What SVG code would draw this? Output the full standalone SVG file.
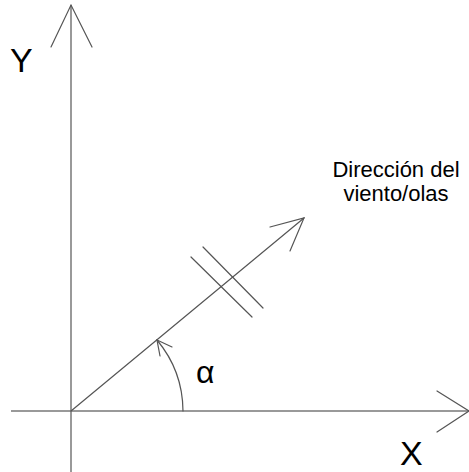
<svg xmlns="http://www.w3.org/2000/svg" width="469" height="472" viewBox="0 0 469 472">
<style>
.ln{fill:none;stroke:#555;stroke-width:1.2;stroke-linecap:round}
.ax{fill:none;stroke:#777;stroke-width:1.5}
.lbl{font-family:"Liberation Sans",Arial,sans-serif;fill:#000}
</style>
<rect width="469" height="472" fill="#fff"/>
<g id="connectors">
<line class="ax" x1="71" y1="5" x2="71" y2="472"/>
<polyline class="ln" points="51,47 71,5 92,47"/>
<line class="ax" x1="11" y1="411" x2="469" y2="411"/>
<polyline class="ln" points="437,391 469,411 437,432"/>
<line class="ln" x1="71" y1="411" x2="304" y2="218"/>
<polyline class="ln" points="270,227 304,218 290,251"/>
<line class="ln" x1="191" y1="257" x2="252" y2="317"/>
<line class="ln" x1="203" y1="247" x2="263" y2="308"/>
<path class="ln" d="M183,411 A112,112 0 0 0 157,340"/>
<polyline class="ln" points="172,347 157,340 160,356"/>
</g>
<g id="label-y"><text class="lbl" x="10" y="72" font-size="34">Y</text></g>
<g id="label-x"><text class="lbl" x="400" y="465" font-size="34">X</text></g>
<g id="label-alpha"><text class="lbl" x="196" y="383" font-size="32">α</text></g>
<g id="label-dir"><text class="lbl" font-size="22" text-anchor="middle"><tspan x="396" y="177">Dirección del</tspan><tspan x="396" y="201">viento/olas</tspan></text></g>
</svg>
